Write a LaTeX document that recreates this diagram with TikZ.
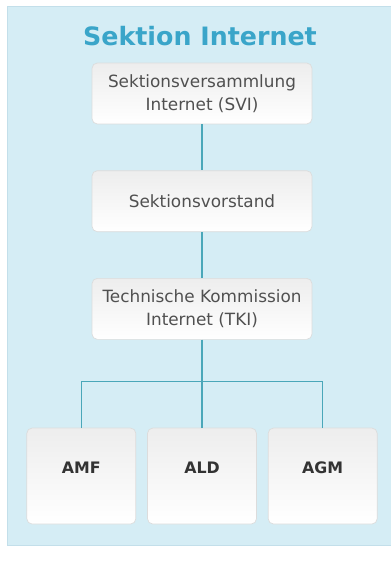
\documentclass[tikz,border=0pt]{standalone}
\usepackage{fontspec}
\setmainfont{DejaVu Sans}
\usepackage{tikz}
\usetikzlibrary{positioning, calc}
\definecolor{panelblue}{HTML}{D5EDF5}
\definecolor{panelline}{HTML}{C3DFEA}
\definecolor{titleblue}{HTML}{3AA5C9}
\definecolor{linkteal}{HTML}{4AA7B9}
\definecolor{boxline}{HTML}{DCDCDC}
\definecolor{boxtext}{HTML}{505050}
\tikzstyle{orgbox}=[rectangle,rounded corners=3pt,draw=boxline,top color=black!7,
bottom color=white,text=boxtext,align=center,font=\fontsize{9.6}{13}\selectfont]
\tikzstyle{widebox}=[orgbox,minimum width=4.4cm,minimum height=1.22cm]
\tikzstyle{unitbox}=[orgbox,minimum width=2.18cm,minimum height=1.92cm,
text depth=0.32cm,text=black!80,font=\fontsize{9}{11}\selectfont\bfseries]
\tikzstyle{titlebox}=[text=titleblue,font=\fontsize{14.4}{17}\selectfont\bfseries]
\tikzstyle{linkpath}=[draw=linkteal,semithick]

\begin{document}
\begin{tikzpicture}[x=0.02cm, y=-0.02cm, node distance = 0.92cm and 0.22cm]
    \useasboundingbox (0,0) rectangle (391,563);
    \path[fill=panelblue, draw=panelline] (7,6) rectangle (400,545);
    
    \node[titlebox] (title) at (200,36) {Sektion Internet};
    
    \node[widebox] (svi) at (202,93.5) {Sektionsversammlung\\Internet (SVI)};
    \node[widebox, below=of svi] (sv) {Sektionsvorstand};
    \node[widebox, below=of sv] (tki) {Technische Kommission\\Internet (TKI)};
    
    \node[unitbox, below=1.76cm of tki] (ald) {ALD};
    \node[unitbox, left=of ald] (amf) {AMF};
    \node[unitbox, right=of ald] (agm) {AGM};
    
    \coordinate (busl) at ($(amf.north)+(0,-46)$);
    
    \path[linkpath]
    (svi) edge (sv)
    (sv) edge (tki)
    (tki) edge (ald);
    \draw[linkpath] (amf.north) -- (busl) -| (agm.north);
\end{tikzpicture}
\end{document}
